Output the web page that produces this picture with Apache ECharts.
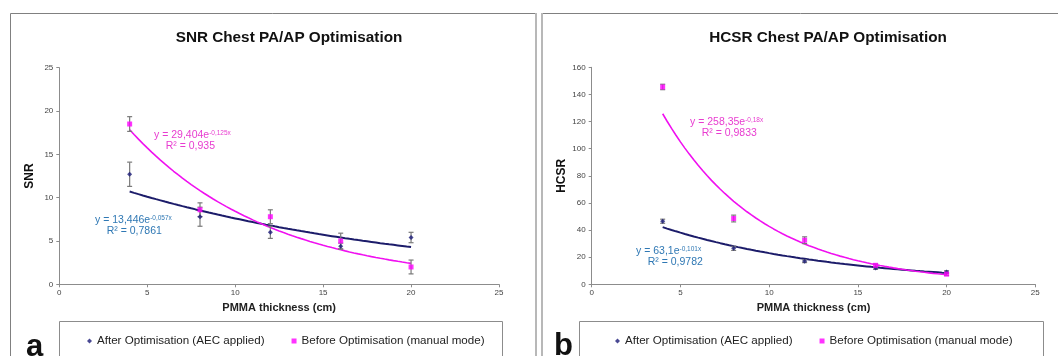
<!DOCTYPE html>
<html>
<head>
<meta charset="utf-8">
<script src="https://cdn.jsdelivr.net/npm/echarts@6/dist/echarts.min.js"></script>
<style>html,body{margin:0;padding:0;background:#fff;}#c{width:1058px;height:356px;}</style>
</head>
<body>
<div id="c"></div>
<script>
// ---- data ----
const thickness = [4, 8, 12, 16, 20];
const xTicks = [0, 5, 10, 15, 20, 25];

const snrAfter = [12.7, 7.8, 6.0, 4.4, 5.4];
const snrAfterErr = [1.4, 1.1, 0.7, 0.35, 0.6];
const snrBefore = [18.5, 8.6, 7.8, 5.0, 2.0];
const snrBeforeErr = [0.85, 0.8, 0.8, 0.9, 0.8];
const snrTrendAfter = [13.446, -0.057];   // y = a e^(b x)
const snrTrendBefore = [29.404, -0.125];

const hcsrAfter = [46.5, 26.5, 17.0, 12.0, 9.0];
const hcsrAfterErr = [1.5, 1.5, 1.0, 1.0, 1.0];
const hcsrBefore = [145.5, 48.5, 32.5, 14.0, 7.5];
const hcsrBeforeErr = [2.0, 2.5, 2.5, 1.0, 1.0];
const hcsrTrendAfter = [63.1, -0.101];
const hcsrTrendBefore = [258.35, -0.18];

const nameAfter = 'After Optimisation (AEC applied)';
const nameBefore = 'Before Optimisation (manual mode)';

// ---- helpers ----
const NAVY = '#1b1b78';
const MAG = '#ff00ff';
const FONT = 'Liberation Sans, Arial, sans-serif';

function pts(ys) { return thickness.map((x, i) => [x, ys[i]]); }
function errs(ys, e) { return thickness.map((x, i) => [x, ys[i] - e[i], ys[i] + e[i]]); }
function trend(c) {
  const out = [];
  for (let x = thickness[0]; x <= thickness[thickness.length - 1] + 1e-9; x += 0.25) {
    out.push([x, c[0] * Math.exp(c[1] * x)]);
  }
  return out;
}
function errRender(params, api) {
  const x = api.value(0), lo = api.value(1), hi = api.value(2);
  const a = api.coord([x, hi]), b = api.coord([x, lo]);
  const hw = 2.5, st = { stroke: '#7a7a7a', lineWidth: 1.2 };
  return { type: 'group', children: [
    { type: 'line', shape: { x1: a[0], y1: a[1], x2: b[0], y2: b[1] }, style: st },
    { type: 'line', shape: { x1: a[0] - hw, y1: a[1], x2: a[0] + hw, y2: a[1] }, style: st },
    { type: 'line', shape: { x1: b[0] - hw, y1: b[1], x2: b[0] + hw, y2: b[1] }, style: st }
  ]};
}
function xAxis(gi) {
  return { gridIndex: gi, type: 'value', min: 0, max: 25, interval: 5,
    name: 'PMMA thickness (cm)', nameLocation: 'middle', nameGap: 18,
    nameTextStyle: { fontFamily: FONT, fontWeight: 'bold', fontSize: 11, color: '#222' },
    axisLine: { lineStyle: { color: '#8c8c8c' } },
    axisTick: { show: true, length: 3, lineStyle: { color: '#8c8c8c' } },
    axisLabel: { fontFamily: FONT, fontSize: 8, color: '#444', margin: 4 },
    splitLine: { show: false } };
}
function yAxis(gi, max, interval, name) {
  return { gridIndex: gi, type: 'value', min: 0, max: max, interval: interval,
    name: name, nameLocation: 'middle', nameGap: 24, nameRotate: 90,
    nameTextStyle: { fontFamily: FONT, fontWeight: 'bold', fontSize: 12, color: '#111' },
    axisLine: { show: true, lineStyle: { color: '#8c8c8c' } },
    axisTick: { show: true, length: 3, lineStyle: { color: '#8c8c8c' } },
    axisLabel: { fontFamily: FONT, fontSize: 8, color: '#444', margin: 6 },
    splitLine: { show: false } };
}
function seriesFor(gi, after, afterErr, before, beforeErr, tA, tB) {
  return [
    { type: 'line', name: 'trendA' + gi, xAxisIndex: gi, yAxisIndex: gi, data: trend(tA),
      showSymbol: false, lineStyle: { color: '#1c1c6a', width: 2 }, silent: true, z: 2 },
    { type: 'line', name: 'trendB' + gi, xAxisIndex: gi, yAxisIndex: gi, data: trend(tB),
      showSymbol: false, lineStyle: { color: '#f010f0', width: 1.6 }, silent: true, z: 2 },
    { type: 'custom', name: 'errA' + gi, xAxisIndex: gi, yAxisIndex: gi, renderItem: errRender,
      data: errs(after, afterErr), encode: { x: 0, y: [1, 2] }, z: 3 },
    { type: 'custom', name: 'errB' + gi, xAxisIndex: gi, yAxisIndex: gi, renderItem: errRender,
      data: errs(before, beforeErr), encode: { x: 0, y: [1, 2] }, z: 3 },
    { type: 'scatter', name: nameAfter, xAxisIndex: gi, yAxisIndex: gi, data: pts(after),
      symbol: 'diamond', symbolSize: 5, itemStyle: { color: NAVY }, z: 5 },
    { type: 'scatter', name: nameBefore, xAxisIndex: gi, yAxisIndex: gi, data: pts(before),
      symbol: 'rect', symbolSize: 5, itemStyle: { color: MAG }, z: 5 }
  ];
}
function legendFor(left) {
  return { left: left, top: 330, width: 470, orient: 'horizontal', itemWidth: 5, itemHeight: 5, itemGap: 27,
    textStyle: { fontFamily: FONT, fontSize: 11.6, color: '#222' },
    data: [{ name: nameAfter, icon: 'diamond' }, { name: nameBefore, icon: 'rect' }] };
}
function eqText(x, y, a, sup, r2, color) {
  return { type: 'text', left: x, top: y, style: {
    text: '{m|y = ' + a + 'e}{s|' + sup + '}\n{m|    R² = ' + r2 + '}',
    fill: color, font: '10.5px ' + FONT,
    rich: { m: { fontSize: 10.5, fontFamily: FONT, fill: color, lineHeight: 11 },
            s: { fontSize: 6.5, fontFamily: FONT, fill: color, verticalAlign: 'top', lineHeight: 11 } } } };
}

const chart = echarts.init(document.getElementById('c'), null, { renderer: 'canvas' });
chart.setOption({
  backgroundColor: '#fff',
  animation: false,
  title: [
    { text: 'SNR Chest PA/AP Optimisation', left: 284, top: 25, textAlign: 'center',
      textStyle: { fontFamily: FONT, fontWeight: 'bold', fontSize: 15.3, color: '#111' } },
    { text: 'HCSR Chest PA/AP Optimisation', left: 823, top: 25, textAlign: 'center',
      textStyle: { fontFamily: FONT, fontWeight: 'bold', fontSize: 15.3, color: '#111' } }
  ],
  grid: [
    { left: 59.3, top: 67.7, width: 439.7, height: 216.6, containLabel: false },
    { left: 591.7, top: 67.3, width: 443.6, height: 217, containLabel: false }
  ],
  xAxis: [xAxis(0), xAxis(1)],
  yAxis: [yAxis(0, 25, 5, 'SNR'), yAxis(1, 160, 20, 'HCSR')],
  legend: [legendFor(82), legendFor(610)],
  series: seriesFor(0, snrAfter, snrAfterErr, snrBefore, snrBeforeErr, snrTrendAfter, snrTrendBefore)
    .concat(seriesFor(1, hcsrAfter, hcsrAfterErr, hcsrBefore, hcsrBeforeErr, hcsrTrendAfter, hcsrTrendBefore)),
  graphic: [
    // panel frames
    { type: 'line', shape: { x1: 10.5, y1: 13.5, x2: 535, y2: 13.5 }, style: { stroke: '#808080', lineWidth: 1 } },
    { type: 'line', shape: { x1: 10.5, y1: 13.5, x2: 10.5, y2: 360 }, style: { stroke: '#808080', lineWidth: 1 } },
    { type: 'line', shape: { x1: 536, y1: 13, x2: 536, y2: 360 }, style: { stroke: '#b8b8b8', lineWidth: 2 } },
    { type: 'line', shape: { x1: 542, y1: 13, x2: 542, y2: 360 }, style: { stroke: '#b8b8b8', lineWidth: 2 } },
    { type: 'line', shape: { x1: 543, y1: 13.5, x2: 1058, y2: 13.5 }, style: { stroke: '#808080', lineWidth: 1 } },
    // legend boxes
    { type: 'rect', shape: { x: 59.5, y: 321.5, width: 443, height: 50 }, style: { fill: 'none', stroke: '#8c8c8c', lineWidth: 1 }, z: -1 },
    { type: 'rect', shape: { x: 579.5, y: 321.5, width: 464, height: 50 }, style: { fill: 'none', stroke: '#8c8c8c', lineWidth: 1 }, z: -1 },
    // panel letters
    { type: 'text', left: 26, top: 332, style: { text: 'a', font: 'bold 31px ' + FONT, fill: '#111' } },
    { type: 'text', left: 554, top: 331, style: { text: 'b', font: 'bold 31px ' + FONT, fill: '#111' } },
    // trendline equations
    eqText(154, 130, '29,404', '-0,125x', '0,935', '#e83cd0'),
    eqText(95, 215, '13,446', '-0,057x', '0,7861', '#2f78b4'),
    eqText(690, 117, '258,35', '-0,18x', '0,9833', '#e83cd0'),
    eqText(636, 246, '63,1', '-0,101x', '0,9782', '#2f78b4')
  ]
});
</script>
</body>
</html>
